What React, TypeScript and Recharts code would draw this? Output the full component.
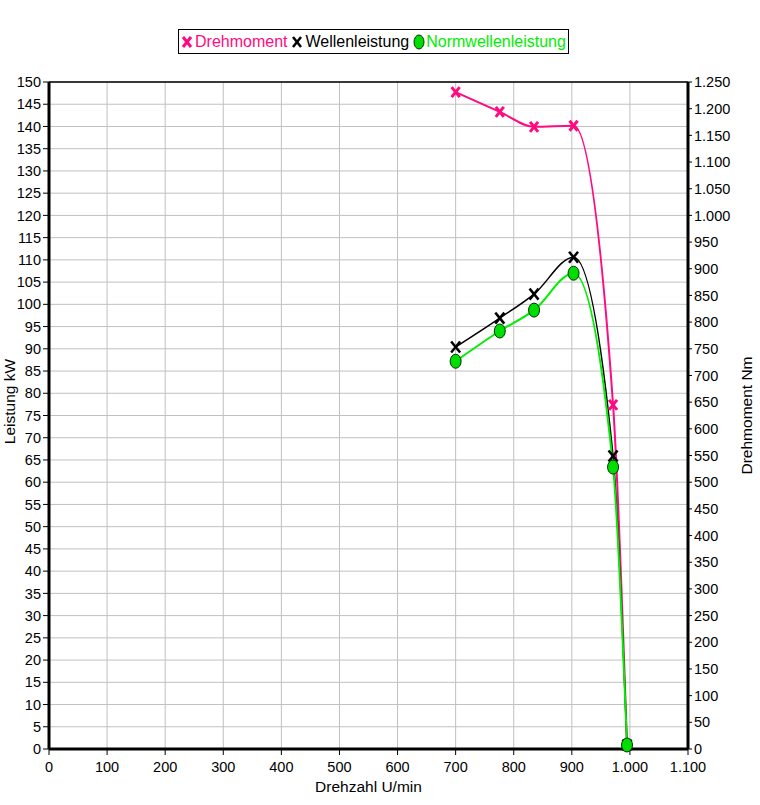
import React from 'react';
import { LineChart, Line, XAxis, YAxis, CartesianGrid, ReferenceLine } from 'recharts';

// Messpunkte (Drehzahl U/min)
const drehzahl = [700, 776, 835, 903, 971, 995];
// Drehmoment in Nm (rechte Achse)
const drehmoment = [1231, 1194, 1166, 1168, 645, 8];
// Wellenleistung in kW (linke Achse)
const wellenleistung = [90.4, 96.9, 102.3, 110.6, 65.9, 0.9];
// Normwellenleistung in kW (linke Achse)
const normwellenleistung = [87.2, 94.0, 98.7, 107.0, 63.4, 0.9];

const xTicks = [0, 100, 200, 300, 400, 500, 600, 700, 800, 900, 1000, 1100];
const leistungTicks = [0, 5, 10, 15, 20, 25, 30, 35, 40, 45, 50, 55, 60, 65, 70, 75, 80, 85, 90, 95, 100, 105, 110, 115, 120, 125, 130, 135, 140, 145, 150];
const momentTicks = [0, 50, 100, 150, 200, 250, 300, 350, 400, 450, 500, 550, 600, 650, 700, 750, 800, 850, 900, 950, 1000, 1050, 1100, 1150, 1200, 1250];

const xMinor = Array.from({ length: 56 }, (_, i) => i * 20);
const leistungMinor = Array.from({ length: 151 }, (_, i) => i);
const momentMinor = Array.from({ length: 126 }, (_, i) => i * 10);

const data = drehzahl.map((n, i) => ({
  n,
  moment: drehmoment[i],
  welle: wellenleistung[i],
  norm: normwellenleistung[i],
}));

const PINK = '#FF0A80';
const GREEN = '#00EE00';
const FONT = '"Liberation Sans", Arial, sans-serif';

const fmt = (v: number) => String(v).replace(/\B(?=(\d{3})+(?!\d))/g, '.');

const PinkX = (props: any) => {
  const { cx, cy } = props;
  if (cx == null || cy == null) return null;
  return (
    <g key={`p-${cx}`}>
      <line x1={cx - 4} y1={cy - 5} x2={cx + 4} y2={cy + 5} stroke={PINK} strokeWidth={3} />
      <line x1={cx + 4} y1={cy - 5} x2={cx - 4} y2={cy + 5} stroke={PINK} strokeWidth={3} />
    </g>
  );
};

const BlackX = (props: any) => {
  const { cx, cy } = props;
  if (cx == null || cy == null) return null;
  return (
    <g key={`b-${cx}`}>
      <line x1={cx - 4.5} y1={cy - 5.5} x2={cx + 4.5} y2={cy + 5.5} stroke="#000" strokeWidth={2.5} />
      <line x1={cx + 4.5} y1={cy - 5.5} x2={cx - 4.5} y2={cy + 5.5} stroke="#000" strokeWidth={2.5} />
    </g>
  );
};

const GreenDot = (props: any) => {
  const { cx, cy } = props;
  if (cx == null || cy == null) return null;
  return <ellipse key={`g-${cx}`} cx={cx} cy={cy} rx={5.5} ry={7} fill="#00DD00" stroke="#003300" strokeWidth={1} />;
};

const tickStyle = { fill: '#000', fontSize: 14.5, fontFamily: FONT };

const LeftTitle = (props: any) => {
  const vb = props.viewBox;
  const cy = vb.y + vb.height / 2 - 14;
  return (
    <text x={9} y={cy} transform={`rotate(-90, 9, ${cy})`} textAnchor="middle" dominantBaseline="central"
      fontSize={15.5} fontFamily={FONT} fill="#000">Leistung kW</text>
  );
};

const RightTitle = (props: any) => {
  const vb = props.viewBox;
  const cy = vb.y + vb.height / 2;
  return (
    <text x={746} y={cy} transform={`rotate(-90, 746, ${cy})`} textAnchor="middle" dominantBaseline="central"
      fontSize={15.5} fontFamily={FONT} fill="#000">Drehmoment Nm</text>
  );
};

const Legende = () => (
  <div style={{
    position: 'absolute', left: 178, top: 29, width: 391, height: 25, border: '1px solid #000',
    display: 'flex', alignItems: 'center', fontFamily: FONT, fontSize: 16, boxSizing: 'border-box', paddingLeft: 2, whiteSpace: 'nowrap',
  }}>
    <svg width={12} height={16} style={{ marginRight: 2 }}>
      <line x1={2} y1={3} x2={10} y2={13} stroke={PINK} strokeWidth={3} />
      <line x1={10} y1={3} x2={2} y2={13} stroke={PINK} strokeWidth={3} />
    </svg>
    <span style={{ color: PINK }}>Drehmoment</span>
    <svg width={12} height={16} style={{ marginLeft: 4, marginRight: 2 }}>
      <line x1={2} y1={3} x2={10} y2={13} stroke="#000" strokeWidth={2.5} />
      <line x1={10} y1={3} x2={2} y2={13} stroke="#000" strokeWidth={2.5} />
    </svg>
    <span style={{ color: '#000' }}>Wellenleistung</span>
    <svg width={12} height={18} style={{ marginLeft: 4, marginRight: 1 }}>
      <ellipse cx={6} cy={9} rx={5} ry={7} fill="#00DD00" stroke="#003300" strokeWidth={1} />
    </svg>
    <span style={{ color: GREEN }}>Normwellenleistung</span>
  </div>
);

export default function App() {
  return (
    <div style={{ position: 'absolute', left: 0, top: 0, width: 760, height: 805, background: '#fff' }}>
      <Legende />
      <LineChart width={760} height={805} data={data} margin={{ top: 82, right: 0, bottom: 0, left: 0 }}>
        <CartesianGrid xAxisId="x" yAxisId="kw" stroke="#C0C0C0" strokeWidth={1} />
        <XAxis xAxisId="xm" type="number" dataKey="n" domain={[0, 1100]} ticks={xMinor} height={0}
          tick={false} tickSize={4} axisLine={false} tickLine={{ stroke: '#000', strokeWidth: 1 }} allowDataOverflow />
        <XAxis xAxisId="x" type="number" dataKey="n" domain={[0, 1100]} ticks={xTicks} height={56}
          tick={tickStyle} tickFormatter={fmt} tickSize={6} tickMargin={7} interval={0}
          axisLine={{ stroke: '#000', strokeWidth: 3 }} tickLine={{ stroke: '#000', strokeWidth: 1 }}
          label={{ value: 'Drehzahl U/min', position: 'insideBottom', offset: 13, fontSize: 15.5, fontFamily: FONT, fill: '#000' }} />
        <YAxis yAxisId="kwm" orientation="left" type="number" domain={[0, 150]} ticks={leistungMinor} width={0}
          tick={false} tickSize={3} axisLine={false} tickLine={{ stroke: '#000', strokeWidth: 1 }} />
        <YAxis yAxisId="kw" orientation="left" type="number" domain={[0, 150]} ticks={leistungTicks} width={49}
          tick={tickStyle} tickSize={6} interval={0}
          axisLine={{ stroke: '#000', strokeWidth: 3 }} tickLine={{ stroke: '#000', strokeWidth: 1 }}
          label={<LeftTitle />} />
        <YAxis yAxisId="nmm" orientation="right" type="number" domain={[0, 1250]} ticks={momentMinor} width={0}
          tick={false} tickSize={3} axisLine={false} tickLine={{ stroke: '#000', strokeWidth: 1 }} />
        <YAxis yAxisId="nm" orientation="right" type="number" domain={[0, 1250]} ticks={momentTicks} width={72}
          tick={tickStyle} tickFormatter={fmt} tickSize={4} interval={0}
          axisLine={{ stroke: '#000', strokeWidth: 3 }} tickLine={{ stroke: '#000', strokeWidth: 1 }}
          label={<RightTitle />} />
        <ReferenceLine xAxisId="x" yAxisId="kw" y={150} stroke="#000" strokeWidth={1.5} />
        <Line xAxisId="x" yAxisId="nm" type="monotone" dataKey="moment" stroke={PINK} strokeWidth={2}
          dot={PinkX} activeDot={false} isAnimationActive={false} />
        <Line xAxisId="x" yAxisId="kw" type="monotone" dataKey="welle" stroke="#000" strokeWidth={1.5}
          dot={BlackX} activeDot={false} isAnimationActive={false} />
        <Line xAxisId="x" yAxisId="kw" type="monotone" dataKey="norm" stroke={GREEN} strokeWidth={2}
          dot={GreenDot} activeDot={false} isAnimationActive={false} />
      </LineChart>
    </div>
  );
}
